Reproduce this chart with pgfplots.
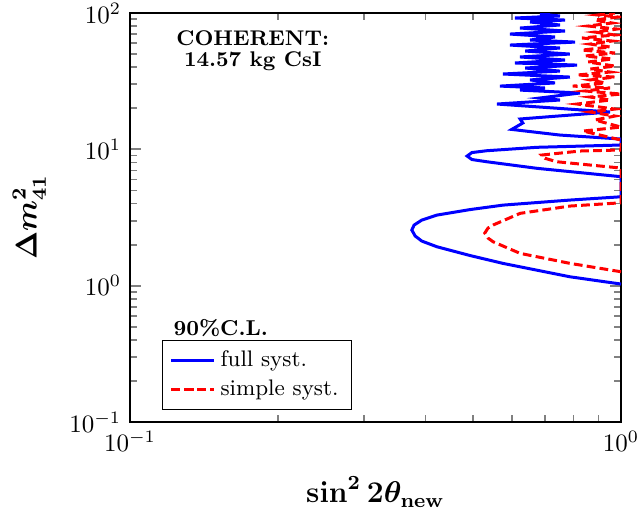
\documentclass[border=0pt]{standalone}
\usepackage{amsmath}
\usepackage{pgfplots}
\pgfplotsset{compat=1.18}
\usetikzlibrary{calc}

\begin{document}
\begin{tikzpicture}
\begin{loglogaxis}[
    scale only axis,
    width=196.4pt, height=163.6pt,
    xmin=0.1, xmax=1, ymin=0.1, ymax=100,
    tick align=inside,
    axis line style={line width=1.1pt},
    tick style={line width=0.7pt},
    xlabel={$\boldsymbol{\sin^2 2\theta_{\mathrm{new}}}$},
    ylabel={$\boldsymbol{\Delta m^2_{41}}$},
    xlabel style={font=\large, at={(axis description cs:0.5,-0.171)}, anchor=center},
    ylabel style={font=\large, at={(axis description cs:-0.205,0.5)}, anchor=center},
    legend style={at={(0.065,0.03)}, anchor=south west, draw=black, font=\small},
    legend cell align=left,
]

% full syst.
\addplot[color=blue, line width=1.2pt] coordinates {
(1,1.028) (0.787,1.162) (0.575,1.457) (0.493,1.663) (0.422,1.929) (0.393,2.124) (0.381,2.312)
(0.375,2.559) (0.379,2.783) (0.393,3.029) (0.422,3.296) (0.493,3.617) (0.575,3.899) (0.787,4.246) (1,4.489)
(1,6.30) (0.674,7.26) (0.533,8.11) (0.497,8.42) (0.486,8.93) (0.497,9.47) (0.533,9.77) (0.674,10.35) (1,10.76)
(1,11.9) (0.751,12.73) (0.599,14.0) (0.631,15.6) (0.623,16.7) (0.950,18.8)
(0.559,21.5) (0.751,23.0) (0.684,23.8) (0.825,25.9) (0.623,27.2) (0.700,28.2) (0.567,29.1) (0.734,30.7)
(0.653,32.3) (0.787,33.9) (0.575,35.7) (0.751,37.5) (0.638,39.5) (0.814,41.5) (0.608,43.0) (0.769,45.2)
(0.623,47.6) (0.787,50.0) (0.638,52.6) (0.751,55.4) (0.594,58.2) (0.806,61.2) (0.653,63.4) (0.734,66.7)
(0.594,70.1) (0.769,73.8) (0.623,77.6) (0.751,81.7) (0.653,85.9) (0.769,88.8) (0.608,91.9) (0.751,95.1)
(0.684,98.3) (0.717,100)
};

% simple syst.
\addplot[color=red, line width=1.2pt, dash pattern=on 3.5pt off 1.7pt] coordinates {
(1,1.265) (0.787,1.458) (0.623,1.726) (0.549,2.099) (0.536,2.235) (0.528,2.432) (0.536,2.646)
(0.549,2.786) (0.623,3.392) (0.787,3.837) (1,4.055)
(1,7.29) (0.740,8.11) (0.700,8.6) (0.689,9.08) (0.825,9.72) (1,9.89)
(1,11.70) (0.837,13.62) (1,14.57) (0.885,16.41) (0.972,17.55) (0.865,18.8) (0.972,19.75) (0.814,21.5)
(0.950,23.0) (0.865,24.2) (1,25.45) (0.845,26.8) (0.950,28.2) (0.798,29.1) (0.928,30.7) (0.865,32.3)
(0.972,33.9) (0.814,35.1) (0.950,36.9) (0.865,38.8) (0.972,40.8) (0.857,43.7) (0.959,46.0) (0.845,48.4)
(0.972,50.9) (0.833,53.5) (0.950,56.3) (0.865,59.2) (0.959,62.3) (0.833,65.6) (0.972,69.0) (0.885,72.5)
(0.982,76.3) (0.857,80.3) (0.959,84.5) (0.885,88.8) (0.986,93.5) (0.898,96.7) (0.972,100)
};

\legend{full syst., simple syst.}
\end{loglogaxis}

\node[align=center, font=\fontsize{8.5}{8.5}\selectfont\bfseries] at ($(current axis.south west)+(49.1pt,148.5pt)$) {COHERENT:\\14.57 kg CsI};
\node[anchor=west, font=\fontsize{8.6}{10}\selectfont\bfseries] at ($(current axis.south west)+(13.9pt,37.6pt)$) {90\%C.L.};

\pgfresetboundingbox
\path ($(current axis.south west)+(-52pt,-34.8pt)$) rectangle ($(current axis.north east)+(7.6pt,5.2pt)$);
\end{tikzpicture}
\end{document}
